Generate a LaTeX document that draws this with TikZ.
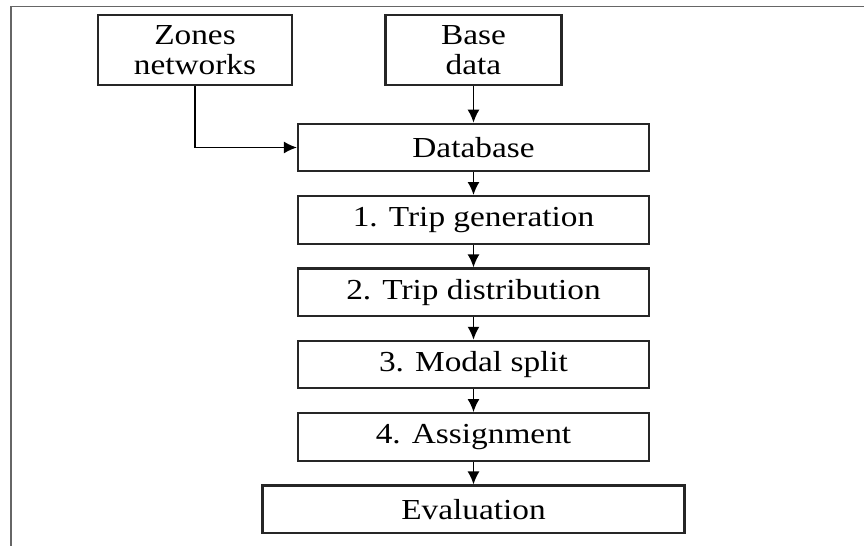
\documentclass[tikz,border=0pt]{standalone}
\usepackage{fontspec}
\setmainfont{Liberation Serif}[FakeStretch=1.15]
\usepackage{tikz}
\usetikzlibrary{positioning}
\usetikzlibrary{arrows.meta}
\tikzset{>={Latex[width=2.4mm,length=2.6mm]}}

\begin{document}
\begin{tikzpicture}
          \tikzstyle{box} = [draw=black!85, line width=1.2pt, rectangle, inner sep=0pt, minimum width=7.02cm, minimum height=0.95cm, align=center, font=\fontsize{16.5}{17}\selectfont]
          \tikzstyle{topbox} = [box, minimum height=1.4cm]
          \tikzstyle{link} = [->, line width=1pt]
          \useasboundingbox (0,0) rectangle (17.28,-10.92);
          \draw[gray!80!black, line width=0.8pt] (0.22,-10.92) -- (0.22,-0.13) -- (17.28,-0.13);

          \node[topbox, minimum width=3.88cm] (zones) at (3.9,-1) {Zones\\networks};
          \node[topbox, minimum width=3.52cm] (base) at (9.47,-1) {Base\\data};
          \node[box] (db) at (9.47,-2.95) {Database};
          \node[box, below = 0.455 of db] (gen) {1. Trip generation};
          \node[box, below = 0.455 of gen] (dist) {2. Trip distribution};
          \node[box, below = 0.455 of dist] (modal) {3. Modal split};
          \node[box, below = 0.455 of modal] (assign) {4. Assignment};
          \node[box, below = 0.455 of assign, minimum width=8.44cm] (eval) {Evaluation};

          \draw[link] (zones) |- (db);
          \draw[link] (base) -- (db);
          \draw[link] (db) -- (gen);
          \draw[link] (gen) -- (dist);
          \draw[link] (dist) -- (modal);
          \draw[link] (modal) -- (assign);
          \draw[link] (assign) -- (eval);
        \end{tikzpicture}
\end{document}
